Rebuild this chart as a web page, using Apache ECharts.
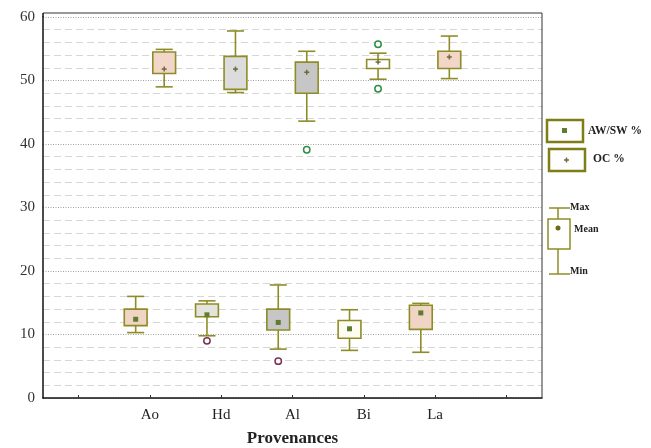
<!DOCTYPE html>
<html><head><meta charset="utf-8">
<script src="https://cdn.jsdelivr.net/npm/echarts@6/dist/echarts.min.js"></script>
<style>html,body{margin:0;padding:0;background:#fff}#c{width:651px;height:448px}</style>
</head><body><div id="c"></div>
<script>
// ---- data ----
const categories = ['Ao', 'Hd', 'Al', 'Bi', 'La'];
const yTicks = [0, 10, 20, 30, 40, 50, 60];

// OC % (upper boxes)
const ocMin  = [49.0, 48.1, 43.6, 50.2, 50.3];
const ocQ1   = [51.1, 48.6, 48.0, 51.9, 51.9];
const ocQ3   = [54.5, 53.8, 52.9, 53.3, 54.6];
const ocMax  = [54.9, 57.8, 54.6, 54.3, 57.0];
const ocMean = [51.8, 51.8, 51.3, 52.9, 53.7];
const ocOutCat = ['Al', 'Bi', 'Bi'];
const ocOutVal = [39.1, 55.7, 48.7];

// AW/SW % (lower boxes)
const awMin  = [10.3, 9.8, 7.7, 7.5, 7.2];
const awQ1   = [11.4, 12.8, 10.7, 9.4, 10.8];
const awQ3   = [14.0, 14.8, 14.0, 12.2, 14.6];
const awMax  = [16.0, 15.3, 17.8, 13.9, 14.9];
const awMean = [12.4, 13.1, 11.9, 10.9, 13.4];
const awOutCat = ['Hd', 'Al'];
const awOutVal = [9.0, 5.8];

// ---- styles ----
const ocFill = ['#f2d6c8', '#dcdcdc', '#c6c6c6', '#ffffff', '#f2d6c8'];
const awFill = ['#f0d4c4', '#e4e4dc', '#c6c6c6', '#fcfcf2', '#f0d4c4'];
const STROKE = '#8e8c26';
const SERIF = '"Liberation Serif","DejaVu Serif",serif';

const axisCats = [''].concat(categories, ['']);

function boxData(mn, q1, q3, mx, mean) {
  return categories.map((c, i) => [c, mn[i], q1[i], q3[i], mx[i], mean[i]]);
}

function makeBoxRender(side, fills, meanType, meanColor) {
  return function (params, api) {
    const idx = api.value(0);
    const band = api.size([1, 0])[0];
    const off = side * 0.2 * band;
    const bw = 0.32 * band, cw = 0.24 * band;
    const pMin = api.coord([idx, api.value(1)]);
    const pQ1 = api.coord([idx, api.value(2)]);
    const pQ3 = api.coord([idx, api.value(3)]);
    const pMax = api.coord([idx, api.value(4)]);
    const pMean = api.coord([idx, api.value(5)]);
    const x = pMin[0] + off;
    const ls = { stroke: STROKE, lineWidth: 1.6 };
    const ch = [
      { type: 'line', shape: { x1: x, y1: pMax[1], x2: x, y2: pQ3[1] }, style: ls },
      { type: 'line', shape: { x1: x, y1: pQ1[1], x2: x, y2: pMin[1] }, style: ls },
      { type: 'line', shape: { x1: x - cw / 2, y1: pMax[1], x2: x + cw / 2, y2: pMax[1] }, style: ls },
      { type: 'line', shape: { x1: x - cw / 2, y1: pMin[1], x2: x + cw / 2, y2: pMin[1] }, style: ls },
      { type: 'rect', shape: { x: x - bw / 2, y: pQ3[1], width: bw, height: pQ1[1] - pQ3[1] },
        style: { fill: fills[params.dataIndex], stroke: STROKE, lineWidth: 1.6 } }
    ];
    if (meanType === 'square') {
      ch.push({ type: 'rect', shape: { x: x - 2.5, y: pMean[1] - 2.5, width: 5, height: 5 }, style: { fill: meanColor } });
    } else {
      ch.push({ type: 'line', shape: { x1: x - 2.5, y1: pMean[1], x2: x + 2.5, y2: pMean[1] }, style: { stroke: meanColor, lineWidth: 1.5 } });
      ch.push({ type: 'line', shape: { x1: x, y1: pMean[1] - 2.5, x2: x, y2: pMean[1] + 2.5 }, style: { stroke: meanColor, lineWidth: 1.5 } });
    }
    return { type: 'group', children: ch };
  };
}

function makeOutRender(side, color) {
  return function (params, api) {
    const idx = api.value(0);
    const band = api.size([1, 0])[0];
    const p = api.coord([idx, api.value(1)]);
    return { type: 'circle', shape: { cx: p[0] + side * 0.2 * band, cy: p[1], r: 3.2 },
      style: { fill: '#fff', stroke: color, lineWidth: 1.5 } };
  };
}

const chart = echarts.init(document.getElementById('c'), null, { renderer: 'canvas' });

const L = 43, T = 13, R = 542, B = 398;
const legendText = { fontFamily: SERIF, fontWeight: 'bold', fontSize: 11.5, fill: '#222' };

chart.setOption({
  animation: false,
  backgroundColor: '#fff',
  grid: { left: L, right: 651 - R, top: 17, bottom: 448 - B, containLabel: false, outerBoundsMode: 'none' },
  xAxis: {
    type: 'category', data: axisCats, boundaryGap: true,
    axisLine: { lineStyle: { color: '#111', width: 1.5 } },
    axisTick: { show: true, inside: true, length: 3, alignWithLabel: true, lineStyle: { color: '#333' } },
    axisLabel: { fontFamily: SERIF, fontSize: 15, color: '#222', margin: 10 },
    name: 'Provenances', nameLocation: 'middle', nameGap: 32,
    nameTextStyle: { fontFamily: SERIF, fontSize: 17, fontWeight: 'bold', color: '#222' },
    splitLine: { show: false }
  },
  yAxis: {
    type: 'value', min: yTicks[0], max: yTicks[yTicks.length - 1], interval: 10,
    axisLine: { show: true, lineStyle: { color: '#111', width: 1.5 } },
    axisTick: { show: false },
    axisLabel: { fontFamily: SERIF, fontSize: 15, color: '#333', margin: 8 },
    splitLine: { show: true, lineStyle: { color: '#a0a0a0', type: [1, 1.5], width: 1 } },
    minorTick: { show: false, splitNumber: 5 },
    minorSplitLine: { show: true, lineStyle: { color: '#d6d6d6', type: [7, 4], width: 1 } }
  },
  series: [
    { type: 'custom', name: 'OC %', renderItem: makeBoxRender(1, ocFill, 'plus', '#6e6a3c'),
      encode: { x: 0, y: [1, 2, 3, 4, 5] }, data: boxData(ocMin, ocQ1, ocQ3, ocMax, ocMean), z: 3 },
    { type: 'custom', name: 'AW/SW %', renderItem: makeBoxRender(-1, awFill, 'square', '#5f7d2e'),
      encode: { x: 0, y: [1, 2, 3, 4, 5] }, data: boxData(awMin, awQ1, awQ3, awMax, awMean), z: 3 },
    { type: 'custom', renderItem: makeOutRender(1, '#2f8f45'), encode: { x: 0, y: 1 },
      data: ocOutCat.map((c, i) => [c, ocOutVal[i]]), z: 4 },
    { type: 'custom', renderItem: makeOutRender(-1, '#7c3456'), encode: { x: 0, y: 1 },
      data: awOutCat.map((c, i) => [c, awOutVal[i]]), z: 4 }
  ],
  graphic: [
    // frame (top and right)
    { type: 'polyline', shape: { points: [[L, T], [R, T], [R, B]] }, style: { stroke: '#333', lineWidth: 1, fill: null }, z: 10 },
    { type: 'line', shape: { x1: L, y1: T, x2: L, y2: 17 }, style: { stroke: '#111', lineWidth: 1.5 }, z: 10 },
    // legend: AW/SW %
    { type: 'rect', shape: { x: 547, y: 120, width: 36, height: 22 }, style: { fill: '#fff', stroke: '#7e7e16', lineWidth: 2.5 } },
    { type: 'rect', shape: { x: 562, y: 128, width: 5, height: 5 }, style: { fill: '#5f7d2e' } },
    { type: 'text', x: 588, y: 131, style: Object.assign({ text: 'AW/SW %', verticalAlign: 'middle' }, legendText) },
    // legend: OC %
    { type: 'rect', shape: { x: 549, y: 149, width: 36, height: 22 }, style: { fill: '#fff', stroke: '#7e7e16', lineWidth: 2.5 } },
    { type: 'line', shape: { x1: 564, y1: 160, x2: 569, y2: 160 }, style: { stroke: '#6e6a3c', lineWidth: 1.5 } },
    { type: 'line', shape: { x1: 566.5, y1: 157.5, x2: 566.5, y2: 162.5 }, style: { stroke: '#6e6a3c', lineWidth: 1.5 } },
    { type: 'text', x: 593, y: 159, style: Object.assign({ text: 'OC %', verticalAlign: 'middle' }, legendText) },
    // key
    { type: 'line', shape: { x1: 549, y1: 208, x2: 570, y2: 208 }, style: { stroke: STROKE, lineWidth: 1.5 } },
    { type: 'line', shape: { x1: 558, y1: 208, x2: 558, y2: 219 }, style: { stroke: STROKE, lineWidth: 1.5 } },
    { type: 'rect', shape: { x: 548, y: 219, width: 22, height: 30 }, style: { fill: '#fff', stroke: STROKE, lineWidth: 1.5 } },
    { type: 'circle', shape: { cx: 558, cy: 228, r: 2.5 }, style: { fill: '#6e6a10' } },
    { type: 'line', shape: { x1: 558, y1: 249, x2: 558, y2: 274 }, style: { stroke: STROKE, lineWidth: 1.5 } },
    { type: 'line', shape: { x1: 549, y1: 274, x2: 570, y2: 274 }, style: { stroke: STROKE, lineWidth: 1.5 } },
    { type: 'text', x: 570, y: 207, style: Object.assign({ text: 'Max', verticalAlign: 'middle' }, legendText, { fontSize: 10 }) },
    { type: 'text', x: 574, y: 229, style: Object.assign({ text: 'Mean', verticalAlign: 'middle' }, legendText, { fontSize: 10 }) },
    { type: 'text', x: 570, y: 271, style: Object.assign({ text: 'Min', verticalAlign: 'middle' }, legendText, { fontSize: 10 }) }
  ]
});
</script>
</body></html>
